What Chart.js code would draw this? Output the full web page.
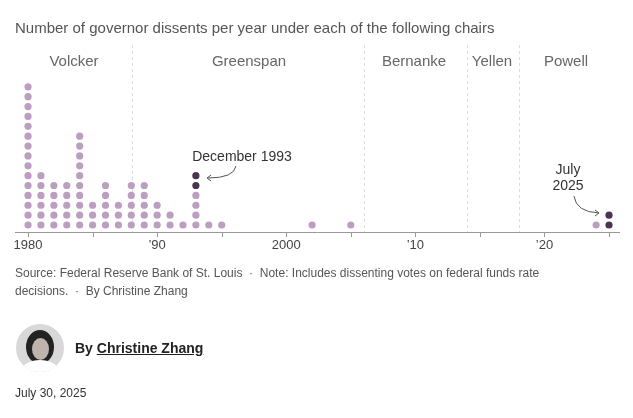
<!DOCTYPE html>
<html><head><meta charset="utf-8">
<script src="https://cdn.jsdelivr.net/npm/chart.js@4"></script>
<style>
body{margin:0;width:633px;height:418px;position:relative;font-family:"Franklin Gothic","Liberation Sans",Arial,sans-serif;background:#fff;overflow:hidden}
#c{position:absolute;left:0;top:0}
.t{position:absolute;white-space:nowrap}
</style></head><body>
<canvas id="c" width="633" height="418"></canvas>
<div class="t" style="left:15px;top:19px;font-size:15px;color:#555">Number of governor dissents per year under each of the following chairs</div>
<div class="t" style="left:15px;top:264px;font-size:12px;color:#555;line-height:18px">Source: Federal Reserve Bank of St. Louis &nbsp;·&nbsp; Note: Includes dissenting votes on federal funds rate<br>decisions. &nbsp;·&nbsp; By Christine Zhang</div>
<div class="t" style="left:16px;top:324px;width:48px;height:48px;border-radius:50%;background:#d8d8d8;overflow:hidden"><div style="position:absolute;left:10px;top:6px;width:28px;height:34px;border-radius:50%;background:#222"></div><div style="position:absolute;left:16px;top:14px;width:17px;height:22px;border-radius:50%;background:#bfb3ad"></div><div style="position:absolute;left:6px;top:36px;width:36px;height:20px;border-radius:50%;background:#fff"></div></div>
<div class="t" style="left:75px;top:340px;font-size:14px;font-weight:bold;color:#222">By <span style="text-decoration:underline">Christine Zhang</span></div>
<div class="t" style="left:15px;top:386px;font-size:12px;color:#333">July 30, 2025</div>
<script>
const years=[1980,1981,1982,1983,1984,1985,1986,1987,1988,1989,1990,1991,1992,1993,1994,1995,2002,2005,2024,2025];
const dissents=[15,6,5,5,10,3,5,3,5,5,3,2,1,6,1,1,1,1,1,2];
const highlighted={1993:[5,6],2025:[1,2]};
const chairs=["Volcker","Greenspan","Bernanke","Yellen","Powell"];
const chairBreaks=[1988.05,2006,2014,2018];
const tickYears=[1980,1990,2000,2010,2020];
const tickLabels=["1980","’90","2000","’10","’20"];
const light=[],dark=[];
years.forEach((y,i)=>{for(let k=1;k<=dissents[i];k++){((highlighted[y]||[]).includes(k)?dark:light).push({x:y,y:k});}});
const deco={id:'deco',beforeDatasetsDraw(ch){const c=ch.ctx,x=ch.scales.x,a=ch.chartArea;c.save();
c.strokeStyle='#ddd';c.setLineDash([3,3]);c.lineWidth=1;
chairBreaks.forEach(b=>{const px=Math.round(x.getPixelForValue(b))+.5;c.beginPath();c.moveTo(px,45);c.lineTo(px,a.bottom);c.stroke();});
c.setLineDash([]);c.fillStyle='#666';c.font='15px "Liberation Sans",Arial';c.textAlign='center';c.textBaseline='middle';
const cx=[74,249,414,492,566];
chairs.forEach((n,i)=>c.fillText(n,cx[i],62));
c.strokeStyle='#999';c.beginPath();c.moveTo(a.left,a.bottom+.5);c.lineTo(a.right,a.bottom+.5);c.stroke();
for(let y=1980;y<=2025;y+=5){const px=Math.round(x.getPixelForValue(y))+.5;c.beginPath();c.moveTo(px,a.bottom);c.lineTo(px,a.bottom+5);c.stroke();}
c.fillStyle='#444';c.font='13px "Liberation Sans",Arial';
tickYears.forEach((t,i)=>c.fillText(tickLabels[i],x.getPixelForValue(t),245));
c.restore();},
afterDatasetsDraw(ch){const c=ch.ctx;c.save();c.fillStyle='#333';c.font='14px "Liberation Sans",Arial';c.textAlign='center';c.textBaseline='middle';
c.fillText('December 1993',242,157);c.fillText('July',568,170);c.fillText('2025',568,186);
c.strokeStyle='#555';c.lineWidth=1;
c.beginPath();c.moveTo(236,166);c.quadraticCurveTo(234,178,208,178);c.stroke();
c.beginPath();c.moveTo(211,175);c.lineTo(207,178);c.lineTo(211,181);c.stroke();
c.beginPath();c.moveTo(574,196);c.quadraticCurveTo(576,212,599,213);c.stroke();
c.beginPath();c.moveTo(595,210);c.lineTo(599,213);c.lineTo(595,216);c.stroke();
c.restore();}};
new Chart(document.getElementById('c'),{type:'scatter',
data:{datasets:[{data:light,backgroundColor:'#bc9fc0',pointRadius:3.6,borderWidth:0,pointHoverRadius:3.6},
{data:dark,backgroundColor:'#4b3452',pointRadius:3.6,borderWidth:0,pointHoverRadius:3.6}]},
options:{responsive:false,animation:false,events:[],layout:{padding:{left:15,right:13,top:75,bottom:186}},
plugins:{legend:{display:false},tooltip:{enabled:false}},
scales:{x:{type:'linear',min:1978.99,max:2025.85,display:false},y:{min:0.29,max:16.2,display:false}}},
plugins:[deco]});
</script></body></html>
